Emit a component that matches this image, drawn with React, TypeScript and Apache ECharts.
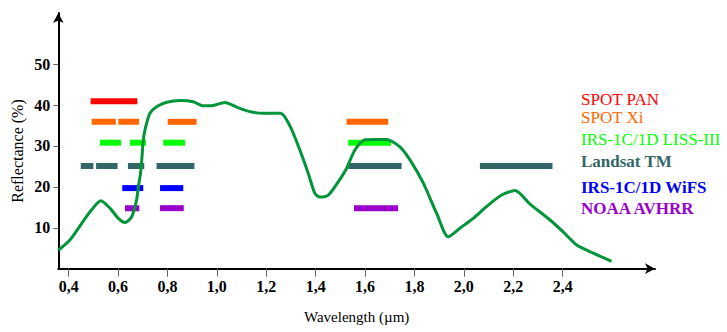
import React, { useEffect, useRef } from "react";
import * as echarts from "echarts";

// Spectral reflectance curve (wavelength in µm, reflectance in %)
const wavelength = [
  0.358, 0.405, 0.453, 0.493, 0.53, 0.567, 0.601, 0.628, 0.655, 0.675, 0.682, 0.691, 0.697, 0.702,
  0.712, 0.729, 0.756, 0.797, 0.851, 0.904, 0.945, 0.985, 1.033, 1.08, 1.134, 1.188, 1.258, 1.296,
  1.336, 1.37, 1.397, 1.417, 1.451, 1.492, 1.525, 1.559, 1.6, 1.647, 1.687, 1.741, 1.782, 1.836,
  1.89, 1.937, 1.984, 2.038, 2.092, 2.153, 2.207, 2.268, 2.349, 2.402, 2.457, 2.524, 2.598,
];
const reflectance = [
  4.5, 7.0, 11.1, 14.4, 16.6, 14.8, 12.3, 11.3, 12.7, 16.8, 20.0, 23.3, 27.4, 31.5,
  34.7, 38.0, 39.6, 40.7, 41.1, 40.8, 39.8, 39.9, 40.6, 39.5, 38.4, 38.0, 38.0, 34.9,
  29.0, 23.3, 18.4, 17.5, 18.0, 21.3, 24.5, 29.0, 31.5, 31.6, 31.6, 29.8, 26.6, 20.9,
  13.5, 7.8, 9.9, 12.3, 15.2, 18.0, 19.1, 15.8, 11.9, 9.0, 5.8, 3.8, 1.8,
];

const xTicks = [0.4, 0.6, 0.8, 1.0, 1.2, 1.4, 1.6, 1.8, 2.0, 2.2, 2.4];
const yTicks = [10, 20, 30, 40, 50];

// Sensor bands: [start µm, end µm]
const sensorNames = ["SPOT PAN", "SPOT Xi", "IRS-1C/1D LISS-III", "Landsat TM", "IRS-1C/1D WiFS", "NOAA AVHRR"];
const sensorLevels = [40.9, 35.9, 30.8, 25.1, 19.7, 14.8];
const spotPan = [[0.489, 0.678]];
const spotXi = [[0.493, 0.591], [0.601, 0.685], [0.801, 0.918], [1.525, 1.694]];
const lissIII = [[0.527, 0.612], [0.648, 0.713], [0.783, 0.871], [1.532, 1.705]];
const landsatTM = [[0.449, 0.5], [0.511, 0.598], [0.64, 0.706], [0.756, 0.909], [1.532, 1.748], [2.065, 2.359]];
const wifs = [[0.617, 0.702], [0.77, 0.864]];
const avhrr = [[0.628, 0.686], [0.77, 0.866], [1.555, 1.734]];
const sensorBands = [spotPan, spotXi, lissIII, landsatTM, wifs, avhrr];

const sensorColors = ["#ff0000", "#ff6600", "#00ff00", "#336666", "#0000ff", "#9900cc"];
const sensorBold = [false, false, false, true, true, true];
const legendY = [99, 117.5, 139.5, 161.7, 187.5, 208.3];

const SERIF = "Liberation Serif";

export default function App() {
  const ref = useRef<HTMLDivElement>(null);
  useEffect(() => {
    if (!ref.current) return;
    const chart = echarts.init(ref.current, null, { renderer: "svg" });

    const bandSeries = sensorBands.map((bands, i) => ({
      type: "custom",
      name: sensorNames[i],
      z: 2,
      data: bands.map((b) => [b[0], b[1], sensorLevels[i]]),
      encode: { x: [0, 1], y: 2 },
      renderItem: (params: any, api: any) => {
        const s = api.coord([api.value(0), api.value(2)]);
        const e = api.coord([api.value(1), api.value(2)]);
        return {
          type: "rect",
          shape: { x: s[0], y: s[1] - 3, width: e[0] - s[0], height: 6 },
          style: { fill: sensorColors[i] },
        };
      },
    }));

    chart.setOption({
      animation: false,
      backgroundColor: "#ffffff",
      textStyle: { fontFamily: SERIF },
      grid: { left: 58.3, top: 13, right: 72, bottom: 63.3 },
      xAxis: {
        type: "value",
        min: 0.358,
        max: 2.774,
        name: "Wavelength (µm)",
        nameLocation: "middle",
        nameGap: 41,
        nameTextStyle: { fontFamily: SERIF, fontSize: 15, color: "#000" },
        splitLine: { show: false },
        axisLine: {
          show: true,
          symbol: ["none", "arrow"],
          symbolSize: [8, 10],
          lineStyle: { color: "#000", width: 2 },
        },
        axisTick: { show: true, customValues: xTicks, length: 8, lineStyle: { color: "#666", width: 1 } },
        axisLabel: {
          customValues: xTicks,
          formatter: (v: number) => v.toFixed(1).replace(".", ","),
          fontFamily: SERIF,
          fontWeight: "bold",
          fontSize: 16,
          color: "#000",
          margin: 10,
        },
      },
      yAxis: {
        type: "value",
        min: 0,
        max: 62.5,
        splitLine: { show: false },
        axisLine: {
          show: true,
          symbol: ["none", "arrow"],
          symbolSize: [8, 10],
          lineStyle: { color: "#000", width: 2 },
        },
        axisTick: { show: true, customValues: yTicks, length: 5, lineStyle: { color: "#666", width: 1 } },
        axisLabel: {
          customValues: yTicks,
          fontFamily: SERIF,
          fontWeight: "bold",
          fontSize: 16,
          color: "#000",
          margin: 8,
        },
      },
      graphic: [
        {
          type: "text",
          x: 17.5,
          y: 151,
          rotation: Math.PI / 2,
          style: {
            text: "Reflectance (%)",
            fontFamily: SERIF,
            fontSize: 16,
            fill: "#000",
            align: "center",
            verticalAlign: "middle",
          },
        },
        ...sensorNames.map((n, i) => ({
          type: "text",
          x: 581,
          y: legendY[i],
          style: {
            text: n,
            fontFamily: SERIF,
            fontSize: 17,
            fontWeight: sensorBold[i] ? "bold" : "normal",
            fill: sensorColors[i],
            align: "left",
            verticalAlign: "middle",
          },
        })),
      ],
      series: [
        ...bandSeries,
        {
          type: "line",
          z: 3,
          data: wavelength.map((w, i) => [w, reflectance[i]]),
          smooth: 0.25,
          showSymbol: false,
          lineStyle: { color: "#00953a", width: 3 },
        },
      ],
    });
    return () => chart.dispose();
  }, []);
  return <div ref={ref} style={{ position: "fixed", left: 0, top: 0, width: 727, height: 332 }} />;
}
